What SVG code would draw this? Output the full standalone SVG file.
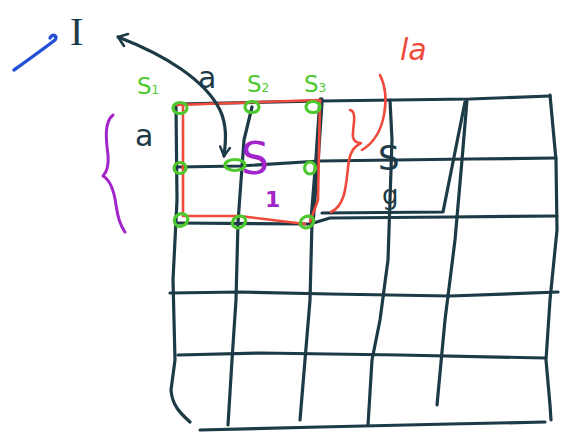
<svg xmlns="http://www.w3.org/2000/svg" width="563" height="432" viewBox="0 0 563 432">
<style>
.ink{fill:none;stroke:#1d3b46;stroke-width:3.2;stroke-linecap:round;stroke-linejoin:round}
.thick{stroke-width:5.5}
.red{fill:none;stroke:#ef4a3c;stroke-width:2.6;stroke-linecap:round;stroke-linejoin:round}
.green{fill:none;stroke:#4dc92e;stroke-width:3.2}
.purple{fill:none;stroke:#a324c9;stroke-width:3;stroke-linecap:round;stroke-linejoin:round}
.hand{font-family:"DejaVu Sans",sans-serif}
</style>
<defs>
<marker id="head" viewBox="0 0 12 12" refX="10" refY="6" markerWidth="12" markerHeight="12" markerUnits="userSpaceOnUse" orient="auto">
<path d="M1,1 L10,6 L1,11" fill="none" stroke="#1d3b46" stroke-width="2.4" stroke-linecap="round"/>
</marker>
</defs>
<rect width="563" height="432" fill="#ffffff"/>

<!-- grid -->
<g id="grid">
<path class="ink" d="M178,104 L320,101 L470,99 L550,96"/>
<path class="ink" d="M178,167 L240,166 L320,161 L470,159 L556,158"/>
<path class="ink" d="M176,223 L310,224 L330,218 L450,217 L557,216"/>
<path class="ink" d="M170,293 L240,292 L330,294 L450,296 L558,292"/>
<path class="ink" d="M178,355 L260,353 L400,355 L545,358"/>
<path class="ink" d="M200,430 L320,427 L450,424 L545,422"/>
<path class="ink" d="M176,106 L177,200 L173,280 L175,360 L171,390 C172,405 180,413 190,422"/>
<path class="ink" d="M252,107 L244,140 L238,222 L236,300 L232,360 L228,425"/>
<path class="ink thick" d="M321,100 L317,160 L312,222"/>
<path class="ink" d="M312,222 L310,300 L305,360 L300,420"/>
<path class="ink" d="M390,100 L392,140 L388,260 L380,320 L372,360 L368,425"/>
<path class="ink" d="M467,100 L462,160 L455,240 L445,320 L437,405"/>
<path class="ink" d="M550,95 L556,160 L557,230 L550,300 L546,360 L550,405 L551,420"/>
<path class="ink" d="M322,213 L443,212 L465,102"/>
</g>

<!-- red outline, braces -->
<g id="region-red">
<path class="red" d="M176,105 L320,100 L318,200 L310,222"/>
<path class="red" d="M183,104 L183,216 L240,216 L305,224"/>
<path class="red" d="M350,110 C358,112 352,128 353,137 C354,142 358,143 361,143 C356,146 352,148 349,160 C346,180 347,205 331,212"/>
<path class="red" d="M380,75 C390,95 387,135 362,150"/>
<text x="400" y="60" class="hand" font-size="30" font-style="italic" fill="#ef4a3c">la</text>
</g>

<!-- purple brace and S1 -->
<g id="region-purple">
<path class="purple" d="M113,115 C104,122 106,140 108,155 C109,168 106,173 103,176 C110,180 114,190 116,205 C118,220 122,228 125,232"/>
<text x="241" y="174" class="hand" font-size="44" fill="#a324c9">S</text>
<text x="265" y="207" class="hand" font-size="22" font-weight="bold" fill="#a324c9">1</text>
</g>

<!-- dark labels -->
<g id="labels">
<text x="70" y="45" font-family="'Liberation Serif',serif" font-size="40" fill="#1d3b46">I</text>
<text x="198" y="88" class="hand" font-size="30" fill="#1d3b46">a</text>
<text x="135" y="146" class="hand" font-size="30" fill="#1d3b46">a</text>
<text x="378" y="170" class="hand" font-size="34" fill="#1d3b46">S</text>
<text x="382" y="204" class="hand" font-size="26" fill="#1d3b46">g</text>
</g>

<!-- arrows -->
<g id="connectors">
<path class="ink" d="M118,37 C165,55 205,80 220,110 C227,125 226,140 224,156" marker-end="url(#head)"/>
<path d="M128,34 L118,37 L124,46" fill="none" stroke="#1d3b46" stroke-width="2.6" stroke-linecap="round" stroke-linejoin="round"/>
<path d="M14,70 C28,60 42,50 55,40 C58,36 53,33 50,38" fill="none" stroke="#2350d6" stroke-width="3.4" stroke-linecap="round"/>
</g>

<!-- green sample points -->
<g id="points">
<text x="137" y="94" class="hand" font-size="23" fill="#4dc92e">S<tspan font-size="12">1</tspan></text>
<text x="247" y="92" class="hand" font-size="23" fill="#4dc92e">S<tspan font-size="12">2</tspan></text>
<text x="304" y="92" class="hand" font-size="23" fill="#4dc92e">S<tspan font-size="12">3</tspan></text>
<ellipse class="green" cx="180" cy="108" rx="7" ry="5.5"/>
<ellipse class="green" cx="252" cy="107" rx="7" ry="5.5"/>
<ellipse class="green" cx="313" cy="107" rx="7" ry="5.5"/>
<ellipse class="green" cx="180" cy="168" rx="6" ry="5.5"/>
<ellipse class="green" cx="235" cy="165" rx="10" ry="5.5"/>
<ellipse class="green" cx="310" cy="168" rx="5.5" ry="6"/>
<ellipse class="green" cx="181" cy="220" rx="7" ry="6" transform="rotate(-30 181 220)"/>
<ellipse class="green" cx="239" cy="222" rx="7" ry="5.5" transform="rotate(-30 239 222)"/>
<ellipse class="green" cx="307" cy="222" rx="7" ry="5.5" transform="rotate(-30 307 222)"/>
</g>
</svg>
